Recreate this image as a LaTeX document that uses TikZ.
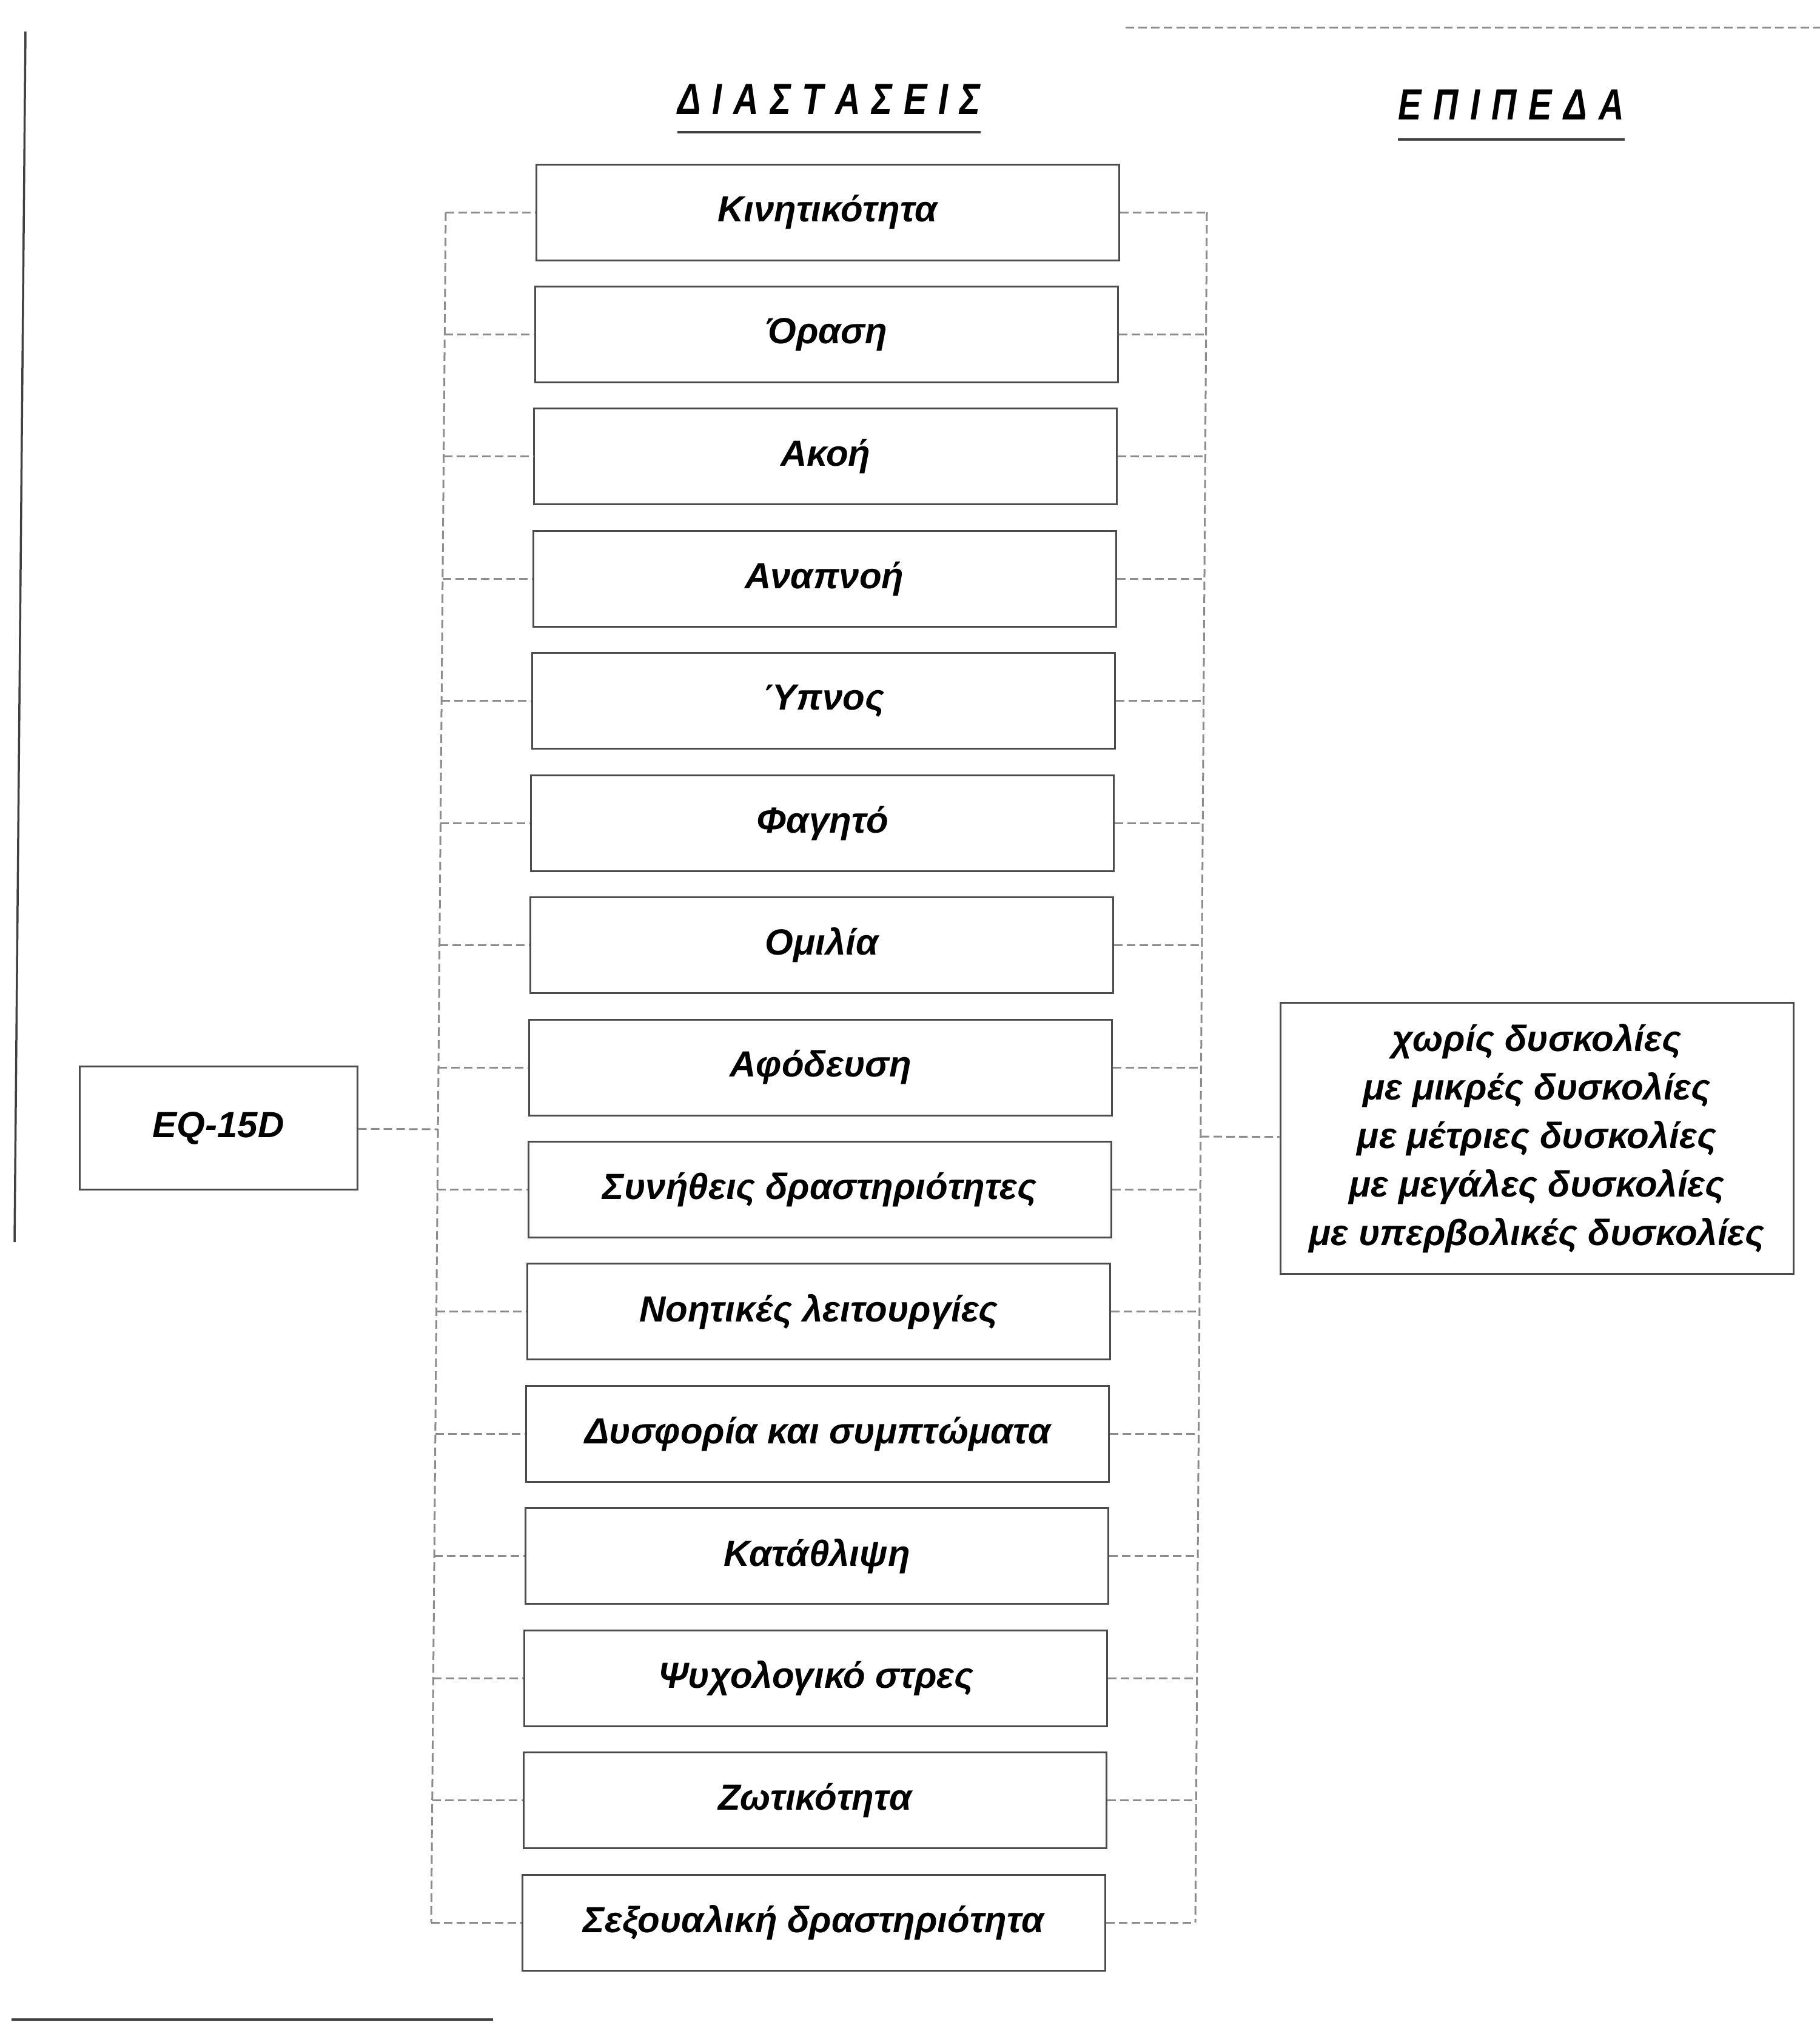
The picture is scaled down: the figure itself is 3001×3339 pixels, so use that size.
\documentclass[tikz,border=0pt]{standalone}
\usepackage{fontspec}
\setmainfont{Liberation Sans}
\newfontfamily\narrowfont{Liberation Sans}[FakeStretch=0.8]
\begin{document}
\begin{tikzpicture}[x=1pt,y=-1pt,
  txtfont/.style={font=\fontsize{60}{80}\selectfont\bfseries\itshape},
  dimbox/.style={draw=black!70, line width=3pt, minimum width=961pt, minimum height=158pt, inner sep=0pt, txtfont},
  frame/.style={draw=black!70, line width=3pt, inner sep=0pt},
  link/.style={draw=black!45, line width=3pt, dash pattern=on 14pt off 7pt},
  rule/.style={draw=black!75, line width=3.5pt},
  titlefont/.style={font=\narrowfont\fontsize{72}{80}\selectfont\bfseries\itshape, inner sep=0pt, anchor=base}]
\useasboundingbox (0,0) rectangle (3001,3339);

% scan frame lines
\draw[rule] (42,52) -- (24,2048);
\draw[link] (1856,45) -- (3001,45);
\draw[rule] (19,3330) -- (813,3330);

% titles
\node[titlefont] (t1) at (1367,188) {\makebox[500pt][s]{Δ\hfill Ι\hfill Α\hfill Σ\hfill Τ\hfill Α\hfill Σ\hfill Ε\hfill Ι\hfill Σ}};
\draw[rule] ([yshift=-30pt]t1.base west) -- ([yshift=-30pt]t1.base east);
\node[titlefont] (t2) at (2492,197) {\makebox[373pt][s]{Ε\hfill Π\hfill Ι\hfill Π\hfill Ε\hfill Δ\hfill Α}};
\draw[rule] ([yshift=-33pt]t2.base west) -- ([yshift=-33pt]t2.base east);

% dimension boxes
\foreach \txt [count=\i from 0] in {Κινητικότητα, Όραση, Ακοή, Αναπνοή, Ύπνος, Φαγητό, Ομιλία, Αφόδευση, Συνήθεις δραστηριότητες, Νοητικές λειτουργίες, Δυσφορία και συμπτώματα, Κατάθλιψη, Ψυχολογικό στρες, Ζωτικότητα, Σεξουαλική δραστηριότητα} {
  \pgfmathsetmacro\yy{350+201.43*\i}
  \pgfmathsetmacro\cx{1364.5-22.5*\i/14}
  \pgfmathsetmacro\lx{735-24*\i/14}
  \pgfmathsetmacro\rx{1990-19*\i/14}
  \node[dimbox] (d\i) at (\cx,\yy) {\txt};
  \coordinate (l\i) at (\lx,\yy);
  \coordinate (r\i) at (\rx,\yy);
  \draw[link] (l\i) -- (d\i.west);
  \draw[link] (d\i.east) -- (r\i);
}
\draw[link] (l0) -- (l14);
\draw[link] (r0) -- (r14);

% EQ-15D
\node[frame, minimum width=458pt, minimum height=203pt, font=\fontsize{60}{72}\selectfont\bfseries\itshape] (eq) at (360,1860) {EQ-15D};
\coordinate (eqj) at (722,1862);
\draw[link] (eq) -- (eqj);

% levels
\node[frame, minimum width=846pt, minimum height=447pt, align=center, txtfont] (lv) at (2534,1877) {χωρίς δυσκολίες\\με μικρές δυσκολίες\\με μέτριες δυσκολίες\\με μεγάλες δυσκολίες\\με υπερβολικές δυσκολίες};
\coordinate (lvj) at (1980,1874);
\draw[link] (lvj) -- (lv);
\end{tikzpicture}
\end{document}
